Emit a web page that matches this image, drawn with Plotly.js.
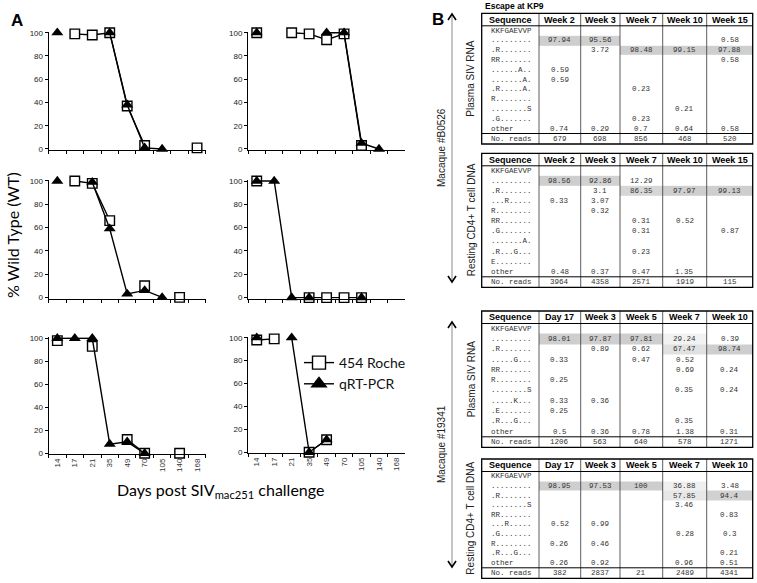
<!DOCTYPE html>
<html><head><meta charset="utf-8">
<script src="https://cdn.plot.ly/plotly-3.0.1.min.js"></script>
<style>html,body{margin:0;padding:0;background:#fff}</style>
</head><body><div id="chart" style="width:757px;height:583px"></div>
<script>
// ---------- Panel A data ----------
const days = ['14','17','21','35','49','70','105','140','168'];
const rocheA1 = [null, 99, 98, 100, 37, 3, null, null, 1];
const qpcrA1  = [100, null, null, 100, 38, 1, 0, null, null];
const rocheA2 = [100, null, 100, 99, 94, 99, 3, null, null];
const qpcrA2  = [100, null, null, null, 100, 100, 5, 0, null];
const rocheA3 = [null, 100, 98, 66, null, 10, null, 0, null];
const qpcrA3  = [100, null, 99, 59, 3, 6, 0, null, null];
const rocheA4 = [100, null, null, 0, 0, 0, 0, null, null];
const qpcrA4  = [100, 100, 0, 0, null, null, 0, null, null];
const rocheA5 = [98, null, 93, null, 12, 0, null, 0, null];
const qpcrA5  = [100, 100, 100, 8, 10, 0, null, null, null];
const rocheA6 = [98, 99, null, 0, 11, null, null, null, null];
const qpcrA6  = [100, null, 100, 0, 11, null, null, null, null];

// ---------- Panel B data ----------
const colsB0526 = ['Week 2','Week 3','Week 7','Week 10','Week 15'];
const cols19341 = ['Day 17','Week 3','Week 5','Week 7','Week 10'];

const seqB0526Plasma = ['KKFGAEVVP','.........','.R.......','RR.......','......A..','.......A.','.R.....A.','R........','........S','.G.......','other'];
const valB0526Plasma = [
  [null,null,null,null,null],
  [97.94,95.56,null,null,0.58],
  [null,3.72,98.48,99.15,97.88],
  [null,null,null,null,0.58],
  [0.59,null,null,null,null],
  [0.59,null,null,null,null],
  [null,null,0.23,null,null],
  [null,null,null,null,null],
  [null,null,null,0.21,null],
  [null,null,0.23,null,null],
  [0.74,0.29,0.7,0.64,0.58]
];
const readsB0526Plasma = [679, 698, 856, 468, 520];

const seqB0526Resting = ['KKFGAEVVP','.........','.R.......','...R.....','R........','RR.......','.G.......','.......A.','.R...G...','E........','other'];
const valB0526Resting = [
  [null,null,null,null,null],
  [98.56,92.86,12.29,null,null],
  [null,3.1,86.35,97.97,99.13],
  [0.33,3.07,null,null,null],
  [null,0.32,null,null,null],
  [null,null,0.31,0.52,null],
  [null,null,0.31,null,0.87],
  [null,null,null,null,null],
  [null,null,0.23,null,null],
  [null,null,null,null,null],
  [0.48,0.37,0.47,1.35,null]
];
const readsB0526Resting = [3964, 4358, 2571, 1919, 115];

const seq19341Plasma = ['KKFGAEVVP','.........','.R.......','.....G...','RR.......','R........','........S','.....K...','.E.......','.R...G...','other'];
const val19341Plasma = [
  [null,null,null,null,null],
  [98.01,97.87,97.81,29.24,0.39],
  [null,0.89,0.62,67.47,98.74],
  [0.33,null,0.47,0.52,null],
  [null,null,null,0.69,0.24],
  [0.25,null,null,null,null],
  [null,null,null,0.35,0.24],
  [0.33,0.36,null,null,null],
  [0.25,null,null,null,null],
  [null,null,null,0.35,null],
  [0.5,0.36,0.78,1.38,0.31]
];
const reads19341Plasma = [1206, 563, 640, 578, 1271];

const seq19341Resting = ['KKFGAEVVP','.........','.R.......','........S','RR.......','...R.....','.G.......','R........','.R...G...','other'];
const val19341Resting = [
  [null,null,null,null,null],
  [98.95,97.53,100,36.88,3.48],
  [null,null,null,57.85,94.4],
  [null,null,null,3.46,null],
  [null,null,null,null,0.83],
  [0.52,0.99,null,null,null],
  [null,null,null,0.28,0.3],
  [0.26,0.46,null,null,null],
  [null,null,null,null,0.21],
  [0.26,0.92,null,0.96,0.51]
];
const reads19341Resting = [382, 2837, 21, 2489, 4341];

// ---------- Layout helpers ----------
const W = 757, H = 583;
const px = v => v / W;
const py = v => 1 - v / H;
const SANS = 'Liberation Sans, Arial, sans-serif';
const HUM = 'Lato, Open Sans, sans-serif';
const MONO = 'Liberation Mono, Courier New, monospace';

const panels = [
  {roche: rocheA1, qpcr: qpcrA1, x0: 48.6, x1: 205.8, y0: 32.7, y1: 149.0, lab: false},
  {roche: rocheA2, qpcr: qpcrA2, x0: 248.0, x1: 405.2, y0: 32.7, y1: 149.0, lab: false},
  {roche: rocheA3, qpcr: qpcrA3, x0: 48.6, x1: 205.8, y0: 181.0, y1: 297.4, lab: false},
  {roche: rocheA4, qpcr: qpcrA4, x0: 248.0, x1: 405.2, y0: 181.0, y1: 297.6, lab: false},
  {roche: rocheA5, qpcr: qpcrA5, x0: 48.6, x1: 205.8, y0: 338.3, y1: 453.3, lab: true},
  {roche: rocheA6, qpcr: qpcrA6, x0: 248.0, x1: 405.2, y0: 337.7, y1: 452.3, lab: true}
];

const data = [];
const layout = {
  width: W, height: H, margin: {l:0, r:0, t:0, b:0},
  paper_bgcolor: '#fff', plot_bgcolor: 'rgba(0,0,0,0)',
  showlegend: true,
  legend: {x: px(299), y: py(347), xanchor: 'left', yanchor: 'top',
           bgcolor: 'rgba(0,0,0,0)', font: {family: HUM, size: 14, color: '#111'},
           itemwidth: 30, tracegroupgap: 0},
  annotations: [], shapes: []
};

const rocheStyle = (sz) => ({symbol: 'square', size: sz, color: '#fff', line: {color: '#000', width: 1.4}});
const qpcrStyle = (sz) => ({symbol: 'triangle-up', size: sz, color: '#000'});

panels.forEach((p, i) => {
  const n = i === 0 ? '' : String(i + 1);
  const unit = (p.y1 - p.y0) / 100;
  data.push({
    x: days, y: p.roche, xaxis: 'x' + n, yaxis: 'y' + n, type: 'scatter',
    mode: 'lines+markers', name: '454 Roche', showlegend: false,
    connectgaps: false, cliponaxis: false, hoverinfo: 'skip',
    line: {color: '#000', width: 1.4}, marker: rocheStyle(9.5)
  });
  data.push({
    x: days, y: p.qpcr, xaxis: 'x' + n, yaxis: 'y' + n, type: 'scatter',
    mode: 'lines+markers', name: 'qRT-PCR', showlegend: false,
    connectgaps: false, cliponaxis: false, hoverinfo: 'skip',
    line: {color: '#000', width: 1.4}, marker: qpcrStyle(10.5)
  });
  layout['xaxis' + n] = {
    domain: [px(p.x0), px(p.x1)], anchor: 'y' + n, type: 'category',
    categoryarray: days, categoryorder: 'array', range: [-0.5, 8.5],
    showline: true, linecolor: '#000', linewidth: 1, mirror: false,
    ticks: 'outside', tickson: 'boundaries', ticklen: 3, tickcolor: '#000', tickwidth: 1,
    showticklabels: p.lab, tickangle: -90,
    tickfont: {family: SANS, size: 8, color: '#333'},
    showgrid: false, zeroline: false, fixedrange: true
  };
  layout['yaxis' + n] = {
    domain: [py(p.y1 + unit), py(p.y0 - unit)], anchor: 'x' + n,
    range: [-1, 101], tickvals: [0,20,40,60,80,100],
    showline: true, linecolor: '#000', linewidth: 1,
    ticks: 'outside', ticklen: 3, tickcolor: '#000', tickwidth: 1,
    tickfont: {family: SANS, size: 8, color: '#222'},
    showgrid: false, zeroline: false, fixedrange: true
  };
});

// legend entries (no data points, larger legend symbols as in the reference)
data.push({x: [null], y: [null], xaxis: 'x', yaxis: 'y', type: 'scatter', mode: 'lines+markers',
  name: '454 Roche', legendrank: 1, hoverinfo: 'skip', line: {color: '#000', width: 1.4}, marker: rocheStyle(13)});
data.push({x: [null], y: [null], xaxis: 'x', yaxis: 'y', type: 'scatter', mode: 'lines+markers',
  name: 'qRT-PCR', legendrank: 2, hoverinfo: 'skip', line: {color: '#000', width: 1.4}, marker: qpcrStyle(15)});

// Panel A labels
const mid = {xanchor: 'center', yanchor: 'middle'};
layout.annotations.push(
  Object.assign({xref:'paper', yref:'paper', x: px(17), y: py(20), text: '<b>A</b>', showarrow: false,
   font: {family: SANS, size: 17, color: '#000'}}, mid),
  Object.assign({xref:'paper', yref:'paper', x: px(12), y: py(235), text: '% Wild Type (WT)', textangle: -90,
   showarrow: false, font: {family: HUM, size: 16, color: '#000'}}, mid),
  Object.assign({xref:'paper', yref:'paper', x: px(220), y: py(490), text: 'Days post SIV<sub>mac251</sub> challenge',
   showarrow: false, font: {family: HUM, size: 16, color: '#000'}}, mid)
);

// ---------- Panel B (tables on a hidden pixel-unit axis) ----------
layout.xaxis7 = {domain: [0,1], anchor: 'y7', range: [0, W], visible: false, fixedrange: true};
layout.yaxis7 = {domain: [0,1], anchor: 'x7', range: [H, 0], visible: false, fixedrange: true};

const colEdges = [481.7, 539.0, 580.7, 620.0, 662.7, 706.7, 752.7];
const headerH = 12.5, readsH = 10.5, seqX = 488.5;
const tables = [
  {top: 13.3, bottom: 144.0, cols: colsB0526, seqs: seqB0526Plasma, vals: valB0526Plasma, reads: readsB0526Plasma},
  {top: 153.3, bottom: 287.3, cols: colsB0526, seqs: seqB0526Resting, vals: valB0526Resting, reads: readsB0526Resting},
  {top: 311.0, bottom: 447.3, cols: cols19341, seqs: seq19341Plasma, vals: val19341Plasma, reads: reads19341Plasma},
  {top: 459.0, bottom: 578.3, cols: cols19341, seqs: seq19341Resting, vals: val19341Resting, reads: reads19341Resting}
];

const ann = (x, y, text, font, extra) => Object.assign(
  {xref: 'x7', yref: 'y7', x: x, y: y, text: text, showarrow: false, font: font,
   xanchor: 'center', yanchor: 'middle'}, extra || {});
const cellFont = {family: MONO, size: 7.5, color: '#333'};
const headFont = {family: SANS, size: 9, color: '#000'};
const line = (x0, y0, x1, y1, w, c) => ({type: 'line', xref: 'x7', yref: 'y7',
  x0: x0, y0: y0, x1: x1, y1: y1, line: {color: c || '#000', width: w}});

tables.forEach(t => {
  const hb = t.top + headerH;
  const rb = t.bottom - readsH;
  const nRows = t.seqs.length;
  const pitch = (rb - hb) / nRows;
  const rowEdges = [];
  for (let i = 0; i <= nRows; i++) rowEdges.push(hb + pitch * i);
  // shading of dominant variants
  data.push({
    type: 'heatmap', xaxis: 'x7', yaxis: 'y7', showlegend: false,
    x: colEdges.slice(1), y: rowEdges,
    z: t.vals.map(r => r.map(v => (v !== null && v >= 20) ? v : null)),
    zmin: 20, zmax: 100, showscale: false, hoverinfo: 'skip',
    colorscale: [[0, '#f6f6f6'], [0.5, '#e6e6e6'], [1, '#cdcdcd']]
  });
  // borders
  for (let c = 1; c < colEdges.length - 1; c++)
    layout.shapes.push(line(colEdges[c], t.top, colEdges[c], t.bottom, 0.8, '#333'));
  layout.shapes.push(line(colEdges[0], hb, colEdges[6], hb, 1, '#000'));
  layout.shapes.push(line(colEdges[0], rb, colEdges[6], rb, 1, '#000'));
  layout.shapes.push({type: 'rect', xref: 'x7', yref: 'y7', x0: colEdges[0], x1: colEdges[6],
    y0: t.top, y1: t.bottom, line: {color: '#000', width: 1.3}});
  // header
  layout.annotations.push(ann((colEdges[0] + colEdges[1]) / 2, t.top + headerH / 2, '<b>Sequence</b>', headFont));
  t.cols.forEach((c, j) => layout.annotations.push(
    ann((colEdges[j + 1] + colEdges[j + 2]) / 2, t.top + headerH / 2, '<b>' + c + '</b>', headFont)));
  // body
  t.seqs.forEach((s, i) => {
    const yc = hb + pitch * (i + 0.5);
    layout.annotations.push(ann(seqX, yc, s, cellFont, {xanchor: 'left'}));
    t.vals[i].forEach((v, j) => {
      if (v !== null) layout.annotations.push(
        ann((colEdges[j + 1] + colEdges[j + 2]) / 2, yc, String(v), cellFont));
    });
  });
  // read counts
  const yr = rb + readsH / 2;
  layout.annotations.push(ann(seqX, yr, 'No. reads', cellFont, {xanchor: 'left'}));
  t.reads.forEach((v, j) => layout.annotations.push(
    ann((colEdges[j + 1] + colEdges[j + 2]) / 2, yr, String(v), cellFont)));
});

// Titles and side labels for panel B
layout.annotations.push(
  ann(438, 19, '<b>B</b>', {family: SANS, size: 17, color: '#000'}),
  ann(483, 6, '<b>Escape at KP9</b>', {family: SANS, size: 8.5, color: '#000'}, {xanchor: 'left'}),
  ann(471, (tables[0].top + tables[0].bottom) / 2, 'Plasma SIV RNA', {family: SANS, size: 10, color: '#222'}, {textangle: -90}),
  ann(471, (tables[1].top + tables[1].bottom) / 2, 'Resting CD4+ T cell DNA', {family: SANS, size: 10, color: '#222'}, {textangle: -90}),
  ann(471, (tables[2].top + tables[2].bottom) / 2, 'Plasma SIV RNA', {family: SANS, size: 10, color: '#222'}, {textangle: -90}),
  ann(471, (tables[3].top + tables[3].bottom) / 2, 'Resting CD4+ T cell DNA', {family: SANS, size: 10, color: '#222'}, {textangle: -90}),
  ann(441, 148, 'Macaque #B0526', {family: SANS, size: 10, color: '#222'}, {textangle: -90}),
  ann(441, 444, 'Macaque #19341', {family: SANS, size: 10, color: '#222'}, {textangle: -90})
);

const arrows = [[14, 282], [322, 567]];
const ax = 452;
arrows.forEach(a => {
  layout.shapes.push(line(ax, a[0] + 1, ax, a[1] - 1, 1, '#8a8a8a'));
  layout.shapes.push({type: 'path', xref: 'x7', yref: 'y7',
    path: `M${ax - 4},${a[0] + 6} L${ax},${a[0]} L${ax + 4},${a[0] + 6}`, line: {color: '#000', width: 1.6}});
  layout.shapes.push({type: 'path', xref: 'x7', yref: 'y7',
    path: `M${ax - 4},${a[1] - 6} L${ax},${a[1]} L${ax + 4},${a[1] - 6}`, line: {color: '#000', width: 1.6}});
});

Plotly.newPlot('chart', data, layout, {staticPlot: true, displayModeBar: false});
</script>
</body></html>
